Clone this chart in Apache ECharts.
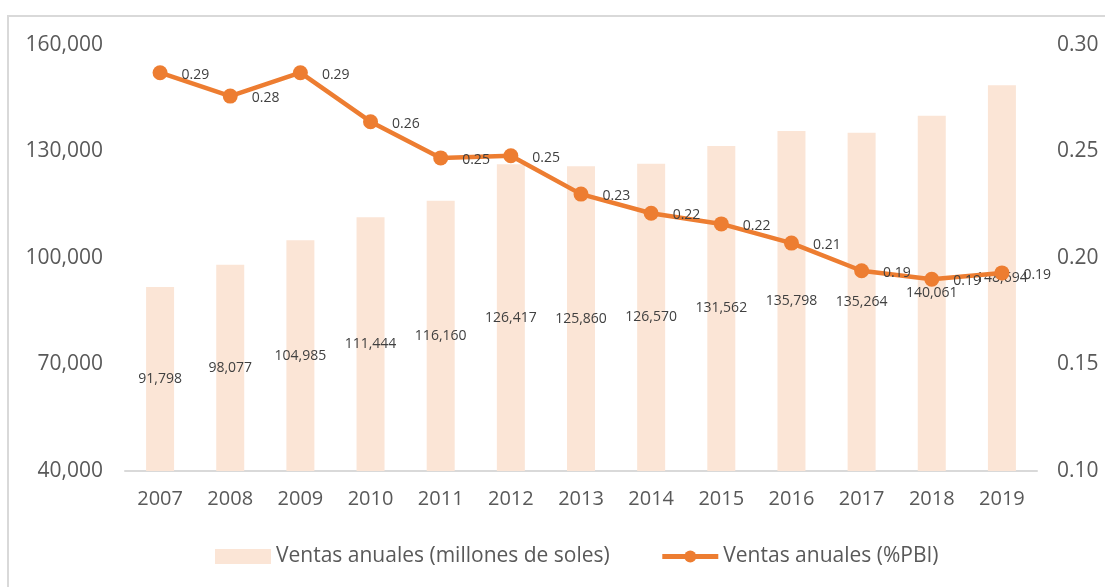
<!DOCTYPE html>
<html>
<head>
<meta charset="utf-8">
<script src="https://cdn.jsdelivr.net/npm/echarts@6/dist/echarts.min.js"></script>
<style>
  html, body { margin: 0; padding: 0; background: #fff; }
  #chart { width: 1105px; height: 587px; position: relative; }
  .frame { position: absolute; left: 7px; top: 15px; width: 1110px; height: 600px; border: 2px solid #d9d9d9; box-sizing: border-box; pointer-events: none; }
</style>
</head>
<body>
<div id="chart"></div>
<div class="frame"></div>
<script>
// datos
var years = ['2007', '2008', '2009', '2010', '2011', '2012', '2013', '2014', '2015', '2016', '2017', '2018', '2019'];
var ventasSoles = [91798, 98077, 104985, 111444, 116160, 126417, 125860, 126570, 131562, 135798, 135264, 140061, 148694];
var ventasPBI = [0.287, 0.276, 0.287, 0.264, 0.247, 0.248, 0.23, 0.221, 0.216, 0.207, 0.194, 0.19, 0.193];
var leftTicks = [40000, 70000, 100000, 130000, 160000];
var rightTicks = [0.10, 0.15, 0.20, 0.25, 0.30];

var myChart = echarts.init(document.getElementById('chart'));
var font = '"Open Sans", "Liberation Sans", sans-serif';

var option = {
    animation: false,
    textStyle: { fontFamily: font },
    grid: { left: 125, right: 68, top: 45, bottom: 116 },
    legend: {
        left: 210,
        bottom: 15,
        itemGap: 50,
        textStyle: { fontSize: 21, color: '#595959', fontFamily: font },
        data: [
            { name: 'Ventas anuales (millones de soles)', icon: 'rect', itemWidth: 52, itemHeight: 14 },
            { name: 'Ventas anuales (%PBI)', lineStyle: { width: 5 } }
        ],
        itemWidth: 56,
        itemHeight: 15
    },
    xAxis: {
        type: 'category',
        data: years,
        axisLine: { lineStyle: { color: '#d9d9d9', width: 2 } },
        axisTick: { show: false },
        axisLabel: { color: '#595959', fontSize: 20, margin: 18 }
    },
    yAxis: [{
        type: 'value',
        min: leftTicks[0],
        max: leftTicks[leftTicks.length - 1],
        interval: 30000,
        splitLine: { show: false },
        axisLine: { show: false },
        axisLabel: {
            color: '#595959', fontSize: 21, margin: 22,
            formatter: function (v) { return v.toLocaleString('en-US'); }
        }
    }, {
        type: 'value',
        min: rightTicks[0],
        max: rightTicks[rightTicks.length - 1],
        interval: 0.05,
        splitLine: { show: false },
        axisLine: { show: false },
        axisLabel: {
            color: '#595959', fontSize: 21, margin: 20,
            formatter: function (v) { return v.toFixed(2); }
        }
    }],
    series: [{
        name: 'Ventas anuales (millones de soles)',
        type: 'bar',
        data: ventasSoles,
        barWidth: 28,
        itemStyle: { color: '#fbe5d6' },
        label: {
            show: true,
            position: 'inside',
            color: '#404040',
            fontSize: 14,
            formatter: function (p) { return p.value.toLocaleString('en-US'); }
        }
    }, {
        name: 'Ventas anuales (%PBI)',
        type: 'line',
        yAxisIndex: 1,
        data: ventasPBI,
        symbol: 'circle',
        symbolSize: 15,
        lineStyle: { color: '#ed7d31', width: 4.5 },
        itemStyle: { color: '#ed7d31' },
        label: {
            show: true,
            position: 'right',
            distance: 14,
            offset: [0, 2],
            color: '#404040',
            fontSize: 14,
            formatter: function (p) { return p.value.toFixed(2); }
        }
    }]
};
myChart.setOption(option);
</script>
</body>
</html>
